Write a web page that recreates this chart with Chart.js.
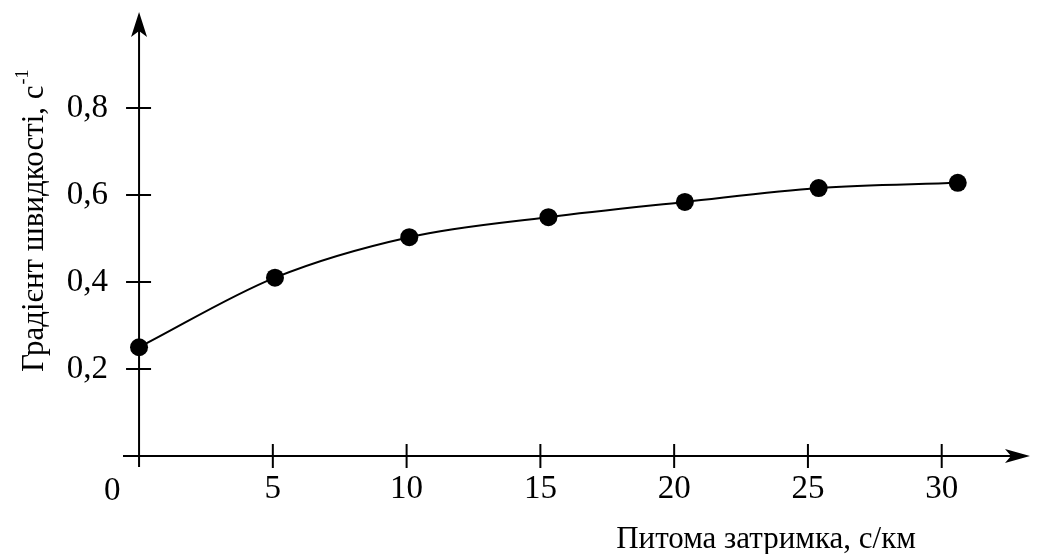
<!DOCTYPE html>
<html>
<head>
<meta charset="utf-8">
<script src="https://cdn.jsdelivr.net/npm/chart.js@4/dist/chart.umd.min.js"></script>
<style>
  html, body { margin: 0; padding: 0; background: #fff; }
  #wrap { width: 1043px; height: 554px; position: relative; }
</style>
</head>
<body>
<div id="wrap"><canvas id="c" width="1043" height="554"></canvas></div>
<script>
// ---- data ----
const delayX = [0, 5.08, 10.1, 15.3, 20.4, 25.4, 30.6];          // Питома затримка, с/км
const gradientY = [0.25, 0.41, 0.503, 0.549, 0.584, 0.616, 0.628]; // Градієнт швидкості, с^-1
const xTickValues = [5, 10, 15, 20, 25, 30];
const yTickValues = [0.2, 0.4, 0.6, 0.8];
const xTitle = 'Питома затримка, с/км';
const yTitle = 'Градієнт швидкості, с';
const yTitleSup = '-1';
const originLabel = '0';

const FONT = '"Liberation Serif", "Times New Roman", serif';

const axesPlugin = {
  id: 'arrowAxes',
  beforeDatasetsDraw(chart) {
    const ctx = chart.ctx;
    const xs = chart.scales.x, ys = chart.scales.y;
    const area = chart.chartArea;
    const x0 = xs.getPixelForValue(0);
    const y0 = ys.getPixelForValue(0);
    ctx.save();
    ctx.strokeStyle = '#000';
    ctx.fillStyle = '#000';
    ctx.lineWidth = 2;
    // y axis
    ctx.beginPath();
    ctx.moveTo(x0, area.bottom);
    ctx.lineTo(x0, area.top + 10);
    ctx.stroke();
    // x axis
    ctx.beginPath();
    ctx.moveTo(area.left, y0);
    ctx.lineTo(area.right - 10, y0);
    ctx.stroke();
    // arrow heads
    ctx.beginPath();
    ctx.moveTo(x0, area.top);
    ctx.lineTo(x0 - 8, area.top + 25);
    ctx.lineTo(x0, area.top + 19);
    ctx.lineTo(x0 + 8, area.top + 25);
    ctx.closePath();
    ctx.fill();
    ctx.beginPath();
    ctx.moveTo(area.right, y0);
    ctx.lineTo(area.right - 25, y0 - 7);
    ctx.lineTo(area.right - 19, y0);
    ctx.lineTo(area.right - 25, y0 + 7);
    ctx.closePath();
    ctx.fill();
    // cross ticks
    ctx.lineWidth = 2;
    yTickValues.forEach(v => {
      const py = ys.getPixelForValue(v);
      ctx.beginPath();
      ctx.moveTo(x0 - 13, py);
      ctx.lineTo(x0 + 12, py);
      ctx.stroke();
    });
    xTickValues.forEach(v => {
      const px = xs.getPixelForValue(v);
      ctx.beginPath();
      ctx.moveTo(px, y0 - 12);
      ctx.lineTo(px, y0 + 12);
      ctx.stroke();
    });
    ctx.restore();
  },
  afterDraw(chart) {
    const ctx = chart.ctx;
    const xs = chart.scales.x;
    ctx.save();
    ctx.fillStyle = '#000';
    // origin label
    ctx.font = '33px ' + FONT;
    ctx.textAlign = 'center';
    ctx.textBaseline = 'alphabetic';
    ctx.fillText(originLabel, xs.getPixelForValue(-1), 500);
    // x title
    ctx.font = '31px ' + FONT;
    ctx.textAlign = 'center';
    ctx.fillText(xTitle, 766, 548);
    // y title (rotated)
    ctx.translate(43, 372);
    ctx.rotate(-Math.PI / 2);
    ctx.textAlign = 'left';
    ctx.font = '31px ' + FONT;
    ctx.fillText(yTitle, 0, 0);
    const w = ctx.measureText(yTitle).width;
    ctx.font = '18px ' + FONT;
    ctx.fillText(yTitleSup, w + 1, -15);
    ctx.restore();
  }
};

new Chart(document.getElementById('c'), {
  type: 'scatter',
  data: {
    datasets: [{
      data: delayX.map((x, i) => ({ x, y: gradientY[i] })),
      showLine: true,
      borderColor: '#000',
      borderWidth: 2,
      backgroundColor: '#000',
      pointBackgroundColor: '#000',
      pointBorderColor: '#000',
      pointRadius: 9,
      pointBorderWidth: 0,
      cubicInterpolationMode: 'monotone'
    }]
  },
  options: {
    responsive: false,
    animation: false,
    events: [],
    layout: { autoPadding: false, padding: { left: 0, top: 12, right: 13, bottom: 0 } },
    plugins: { legend: { display: false }, tooltip: { enabled: false } },
    scales: {
      x: {
        type: 'linear',
        min: -0.6,
        max: 33.3,
        grid: { display: false, drawTicks: false },
        border: { display: false },
        afterBuildTicks: s => { s.ticks = xTickValues.map(v => ({ value: v })); },
        afterFit: s => { s.height = 87; s.paddingLeft = 0; s.paddingRight = 0; },
        ticks: {
          padding: 3,
          color: '#000',
          font: { family: FONT, size: 33 },
          maxRotation: 0,
          callback: v => String(v)
        }
      },
      y: {
        type: 'linear',
        min: -0.0253,
        max: 1.0207,
        grid: { display: false, drawTicks: false },
        border: { display: false },
        afterBuildTicks: s => { s.ticks = yTickValues.map(v => ({ value: v })); },
        afterFit: s => { s.width = 123; s.paddingTop = 0; s.paddingBottom = 0; },
        ticks: {
          padding: 15,
          color: '#000',
          font: { family: FONT, size: 33 },
          callback: v => v.toFixed(1).replace('.', ',')
        }
      }
    }
  },
  plugins: [axesPlugin]
});
</script>
</body>
</html>
